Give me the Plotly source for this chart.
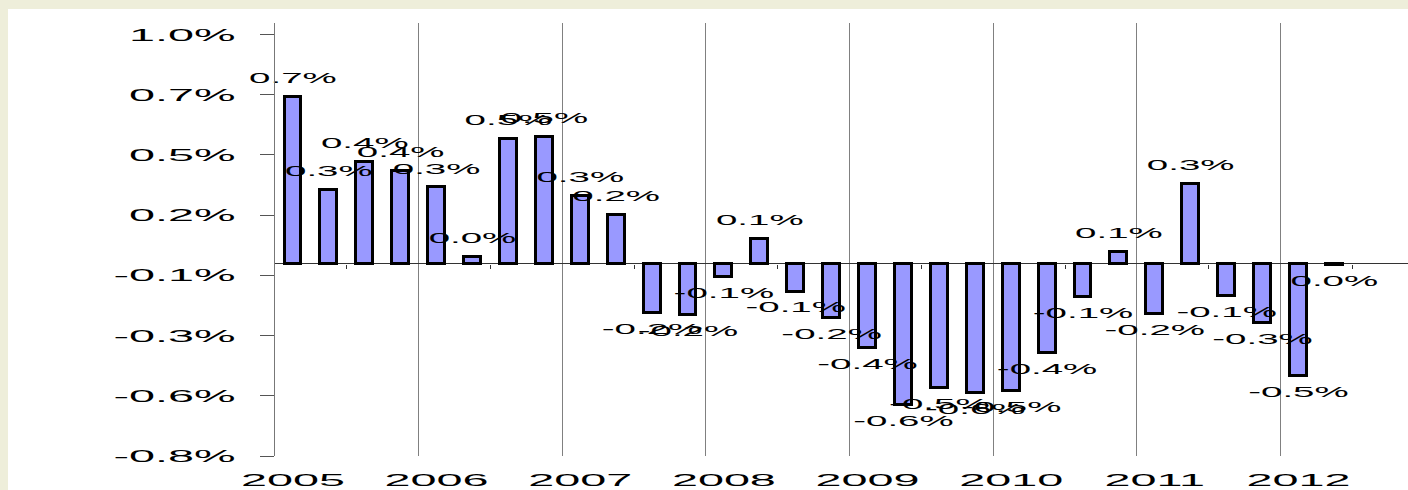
import plotly.graph_objects as go

# ---- data (quarterly change, %), 2005Q1 .. 2012Q2 ----
quarters = ["2005Q1", "2005Q2", "2005Q3", "2005Q4",
            "2006Q1", "2006Q2", "2006Q3", "2006Q4",
            "2007Q1", "2007Q2", "2007Q3", "2007Q4",
            "2008Q1", "2008Q2", "2008Q3", "2008Q4",
            "2009Q1", "2009Q2", "2009Q3", "2009Q4",
            "2010Q1", "2010Q2", "2010Q3", "2010Q4",
            "2011Q1", "2011Q2", "2011Q3", "2011Q4",
            "2012Q1", "2012Q2"]
values = [0.72, 0.32, 0.44, 0.40,
          0.33, 0.03, 0.54, 0.548,
          0.294, 0.21, -0.214, -0.222,
          -0.057, 0.107, -0.12, -0.235,
          -0.364, -0.61, -0.538, -0.558,
          -0.548, -0.387, -0.143, 0.052,
          -0.218, 0.345, -0.139, -0.255,
          -0.485, -0.005]
years = ["2005", "2006", "2007", "2008", "2009", "2010", "2011", "2012"]

# y-axis ticks (positions in %, and their printed labels)
ytick_vals = [-0.83, -0.57, -0.31, -0.05, 0.21, 0.47, 0.73, 0.99]
ytick_text = ["-0.8%", "-0.6%", "-0.3%", "-0.1%", "0.2%", "0.5%", "0.7%", "1.0%"]
y_range = [-0.83, 1.04]
x_range = [-0.5, 31.05]

# ---- derived ----
xpos = list(range(len(values)))
labels = [f"{round(v, 1) + 0.0:.1f}%" for v in values]
label_pos = ["top center" if v >= 0 else "bottom center" for v in values]
year_first_q = [quarters.index(y + "Q1") for y in years]
year_bounds = [i - 0.5 for i in year_first_q[1:]]
mid_years = [i + 1.5 for i in year_first_q]

W, H = 1408, 490
ML, MR, MT, MB = 275, 0, 23, 34
FONT = "Liberation Sans, Arial, sans-serif"

fig = go.Figure()
fig.add_trace(go.Bar(
    x=xpos, y=values, width=0.47,
    marker=dict(color="#9999FF", line=dict(color="#000000", width=3)),
    hoverinfo="skip",
))
fig.add_trace(go.Scatter(
    x=xpos, y=values, mode="markers+text", xaxis="x2",
    marker=dict(size=15, opacity=0),
    text=labels, textposition=label_pos,
    textfont=dict(family=FONT, size=14, color="#000000"),
    cliponaxis=False, hoverinfo="skip",
))

pw = W - ML - MR
ph = H - MT - MB
fig.add_shape(type="rect", xref="paper", yref="paper",
              x0=(8 - ML) / pw, x1=1.02, y0=-(MB + 10) / ph, y1=1 + (MT - 9) / ph,
              fillcolor="white", line=dict(width=0), layer="below")

fig.update_layout(
    width=W, height=H,
    margin=dict(l=ML, r=MR, t=MT, b=MB, pad=0),
    paper_bgcolor="#EEEEDA", plot_bgcolor="white",
    showlegend=False, bargap=0,
    font=dict(family=FONT, color="#000000"),
    xaxis=dict(
        range=x_range,
        tickmode="array", tickvals=year_first_q, ticktext=years,
        tickfont=dict(size=17), ticks="", showgrid=False, zeroline=False,
        showline=False, ticklabelstandoff=12,
        minor=dict(tickmode="array", tickvals=year_bounds, showgrid=True,
                   gridcolor="#808080", gridwidth=1, ticks=""),
    ),
    xaxis2=dict(
        range=x_range, overlaying="x", anchor="free", side="bottom",
        position=(0 - y_range[0]) / (y_range[1] - y_range[0]),
        tickmode="array", tickvals=mid_years, ticks="outside", ticklen=4,
        tickcolor="#333333", tickwidth=1, showticklabels=False,
        showgrid=False, zeroline=False, showline=False,
    ),
    yaxis=dict(
        range=y_range,
        tickmode="array", tickvals=ytick_vals, ticktext=ytick_text,
        tickfont=dict(size=17), ticks="outside", ticklen=14, tickcolor="#555555",
        showline=True, linecolor="#777777", linewidth=1,
        showgrid=False, zeroline=True, zerolinecolor="#333333", zerolinewidth=1,
        ticklabelstandoff=21,
    ),
)

post = """
document.body.style.margin = '0';
var gd = document.getElementById('{plot_id}');
var k = 2.75;
gd.querySelectorAll('svg text').forEach(function(t){
  if (!t.textContent) return;
  var bb = t.getBBox();
  var a = t.getAttribute('text-anchor') || 'start';
  var cx = a === 'end' ? bb.x + bb.width : (a === 'middle' ? bb.x + bb.width / 2 : bb.x);
  var tr = t.getAttribute('transform') || '';
  t.setAttribute('transform', tr + ' translate(' + cx + ',0) scale(' + k + ',1) translate(' + (-cx) + ',0)');
});
"""
fig.write_html("out.html", config={"displayModeBar": False}, post_script=post)
